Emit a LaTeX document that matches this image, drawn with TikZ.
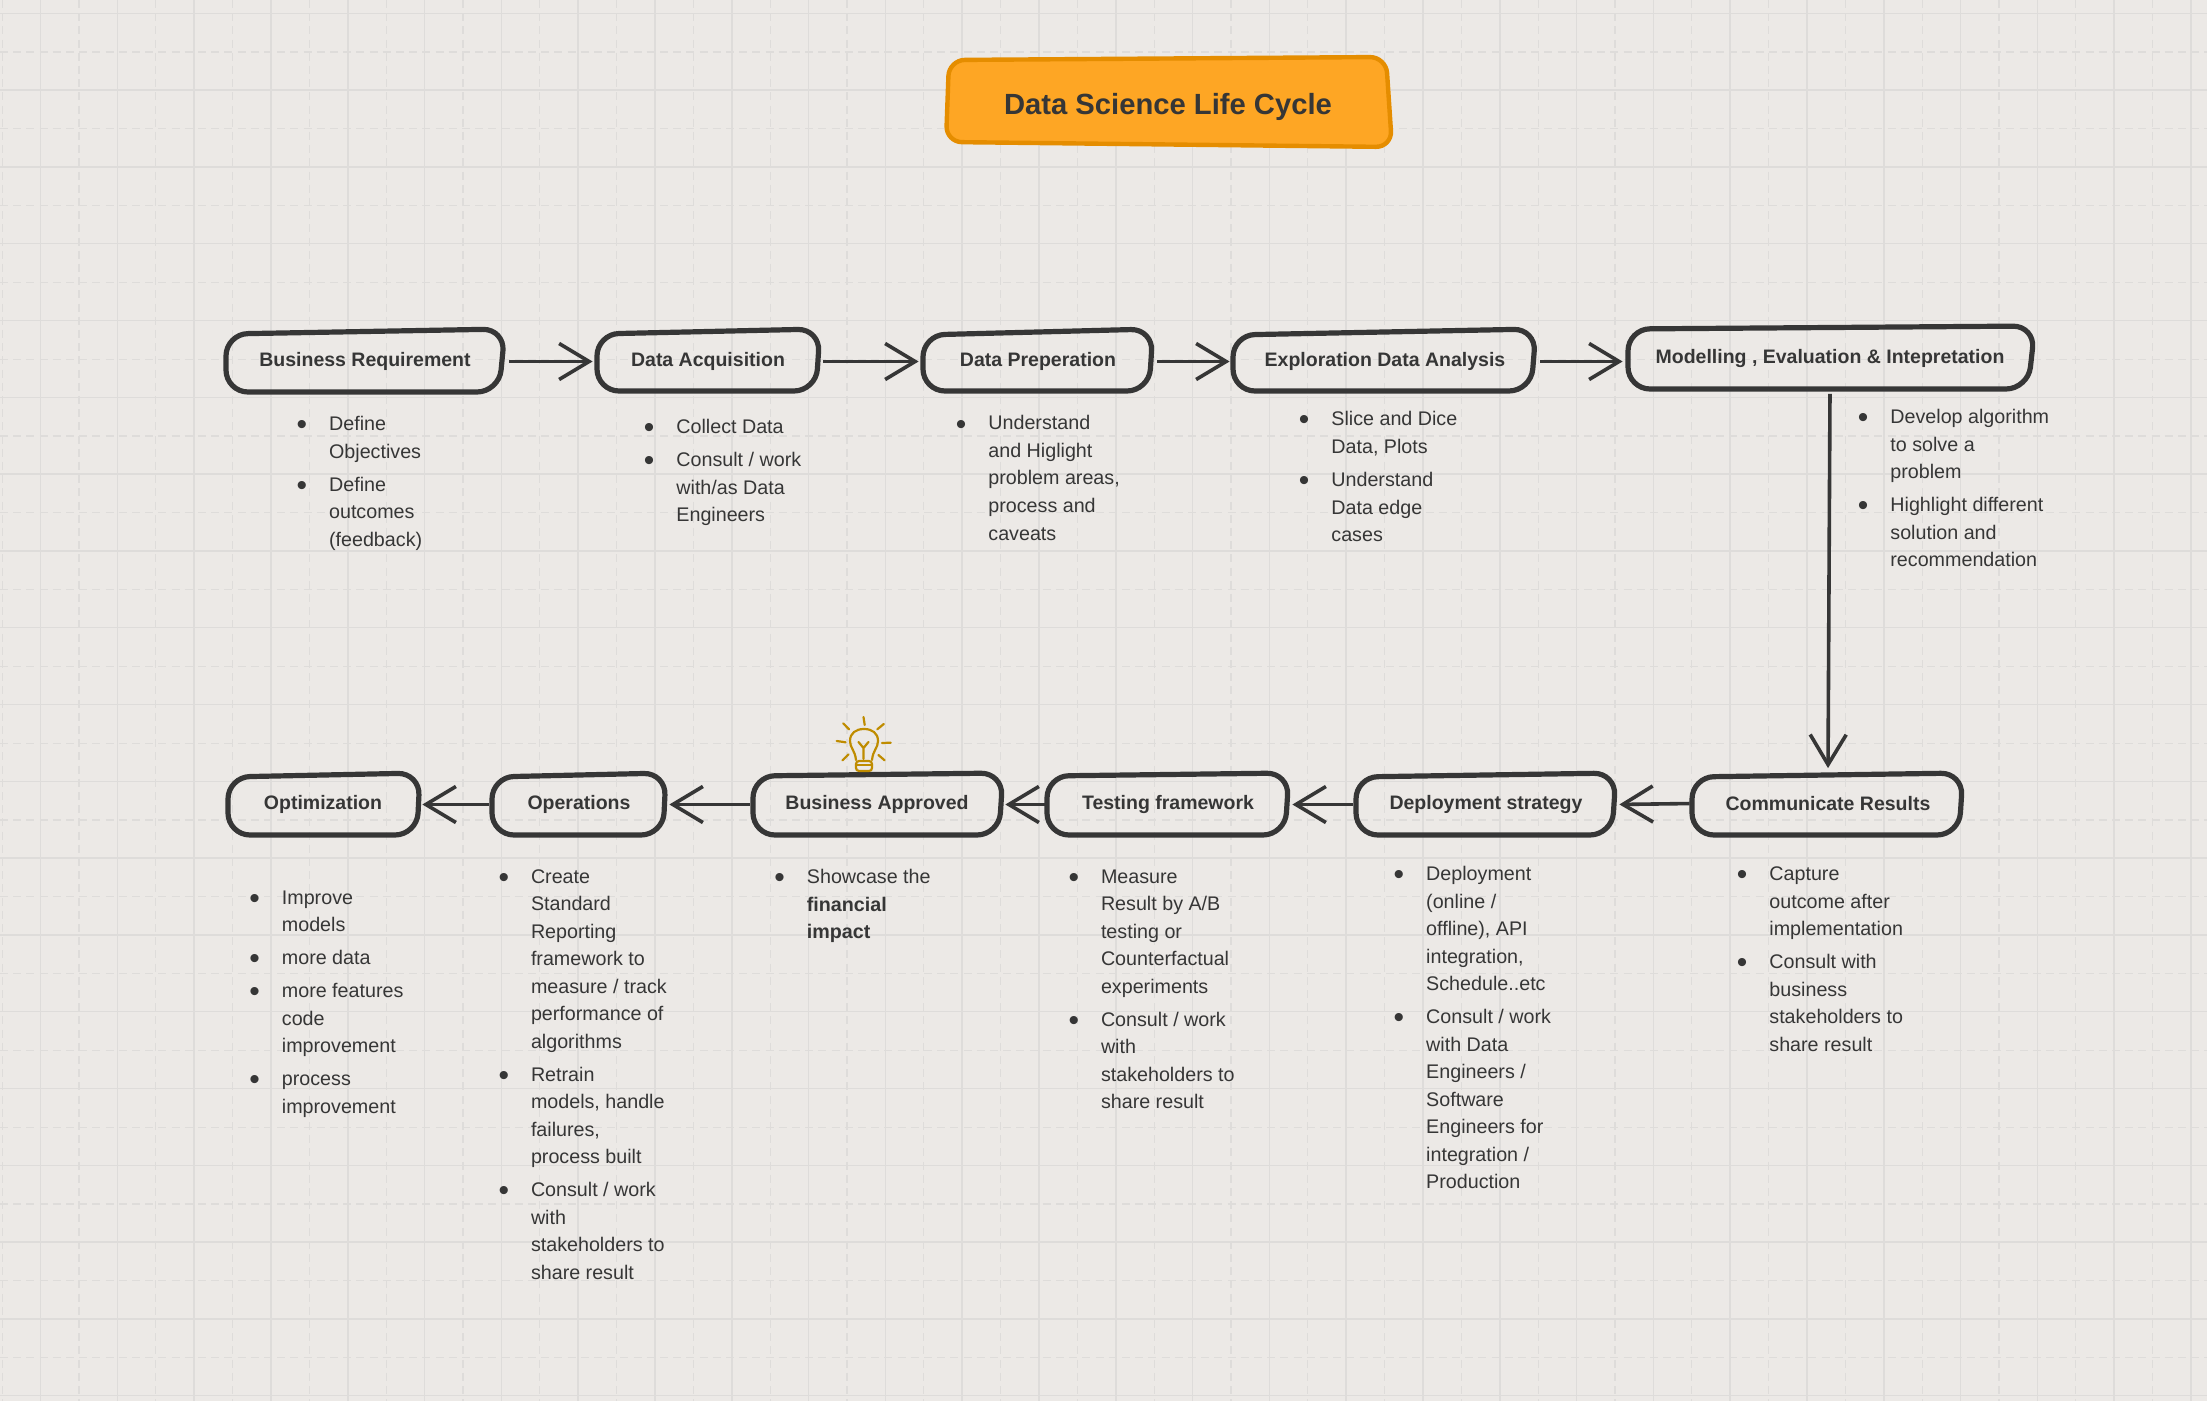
\documentclass[tikz,border=0pt]{standalone}
\usepackage{fontspec}
\setmainfont{Liberation Sans}
\usetikzlibrary{arrows.meta}
\definecolor{bgc}{HTML}{ECE9E6}
\definecolor{gridc}{HTML}{DEDCDA}
\definecolor{inkc}{HTML}{363636}
\definecolor{titlef}{HTML}{FEA624}
\definecolor{titled}{HTML}{E58D00}
\definecolor{bulbc}{HTML}{BF8C00}
\tikzset{
  x=0.5pt,y=-0.5pt,
  gsolid/.style={gridc,line width=0.75pt},
  gdash/.style={gridc,line width=0.6pt,dash pattern=on 4pt off 2.6pt},
  outline/.style={inkc,line width=2.6pt,rounded corners=11pt,line join=round},
  titleline/.style={draw=titled,fill=titlef,line width=2.2pt,rounded corners=8pt},
  lbl/.style={font=\bfseries\fontsize{9.75}{12}\selectfont,text=inkc,inner sep=0pt},
  conn/.style={inkc,line width=1.8pt,-{Straight Barb[length=15pt,width=18pt,line width=1.8pt]}},
  body/.style={text=inkc,inner sep=0pt,anchor=base west},
  bulb/.style={bulbc,line width=1.1pt,line cap=round}
}
\newcommand{\blk}[4]{\node[body] (#1) at (#2,#3+7) {\parbox[t]{130pt}{\fontsize{9.85}{13.75}\selectfont\parindent=0pt\parskip=2.8pt\relax #4}};}
\newcommand{\itm}{\leavevmode\llap{\raisebox{-2pt}[0pt][0pt]{\fontsize{15}{15}\selectfont •}\hskip 11pt}}
\begin{document}
\begin{tikzpicture}
\useasboundingbox (0,0) rectangle (2207,1401);
\fill[bgc] (0,0) rectangle (2207,1401);
\foreach \k in {0,...,28}{
  \draw[gdash] ({2.2+76.8*\k},0) -- ({2.2+76.8*\k},1401);
  \draw[gsolid] ({40.6+76.8*\k},0) -- ({40.6+76.8*\k},1401);
}
\foreach \k in {0,...,18}{
  \draw[gsolid] (0,{13.3+76.8*\k}) -- (2207,{13.3+76.8*\k});
  \draw[gdash] (0,{52+76.8*\k}) -- (2207,{52+76.8*\k});
}
% title
\draw[titleline] (949,60) -- (1386,57) -- (1392,147) -- (946,142) -- cycle;
\node[lbl,font=\bfseries\fontsize{14.6}{18}\selectfont] (title) at (1168,107) {Data Science Life Cycle};
% row 1
\draw[outline] (226,334) -- (505,329) -- (499,392) -- (226,392) -- cycle;
\node[lbl,minimum width=140pt,minimum height=32pt] (br) at (365,361.5) {Business Requirement};
\draw[outline] (597,334) -- (820,329) -- (816,391) -- (597,391) -- cycle;
\node[lbl,minimum width=111pt,minimum height=30pt] (da) at (708,361.5) {Data Acquisition};
\draw[outline] (923,335) -- (1153,329) -- (1149,391) -- (923,391) -- cycle;
\node[lbl,minimum width=115pt,minimum height=30pt] (dp) at (1038,361.5) {Data Preperation};
\draw[outline] (1233,335) -- (1536,329) -- (1531,391) -- (1233,391) -- cycle;
\node[lbl,minimum width=151pt,minimum height=30pt] (eda) at (1385,361.5) {Exploration Data Analysis};
\draw[outline] (1628,329) -- (2035,326) -- (2028,389) -- (1628,389) -- cycle;
\node[lbl,minimum width=203pt,minimum height=31pt] (mei) at (1830,358.5) {Modelling , Evaluation \& Intepretation};
% row 2
\draw[outline] (228,777) -- (420,773) -- (417,835) -- (228,835) -- cycle;
\node[lbl,minimum width=96pt,minimum height=31pt] (opt) at (323,804.5) {Optimization};
\draw[outline] (492,777) -- (666,773) -- (663,835) -- (492,835) -- cycle;
\node[lbl,minimum width=87pt,minimum height=31pt] (ops) at (579,804.5) {Operations};
\draw[outline] (753,776) -- (1003,773) -- (999,835) -- (753,835) -- cycle;
\node[lbl,minimum width=125pt,minimum height=31pt] (ba) at (877,804.5) {Business Approved};
\draw[outline] (1047,776) -- (1289,773) -- (1285,835) -- (1047,835) -- cycle;
\node[lbl,minimum width=121pt,minimum height=31pt] (tf) at (1168,804.5) {Testing framework};
\draw[outline] (1356,777) -- (1616,773) -- (1612,835) -- (1356,835) -- cycle;
\node[lbl,minimum width=130pt,minimum height=31pt] (ds) at (1486,804.5) {Deployment strategy};
\draw[outline] (1692,777) -- (1963,773) -- (1959,835) -- (1692,835) -- cycle;
\node[lbl,minimum width=135pt,minimum height=31pt] (cr) at (1828,803.5) {Communicate Results};
% connectors
\draw[conn,shorten <=2pt,shorten >=2pt] (br.east) -- (da.west);
\draw[conn,shorten <=2pt,shorten >=2pt] (da.east) -- (dp.west);
\draw[conn,shorten <=2pt,shorten >=2pt] (dp.east) -- (eda.west);
\draw[conn,shorten <=2pt,shorten >=2pt] (eda.east) -- ([yshift=-1.5pt]mei.west);
\draw[conn,shorten <=2pt,shorten >=2pt] (mei.south) -- (cr.north);
\draw[conn,shorten <=1.5pt,shorten >=1.5pt] (cr.west) -- (ds.east);
\draw[conn,shorten <=1.5pt,shorten >=1.5pt] (ds.west) -- (tf.east);
\draw[conn,shorten <=1pt,shorten >=1.5pt] (tf.west) -- (ba.east);
\draw[conn,shorten <=1pt,shorten >=1.5pt] (ba.west) -- (ops.east);
\draw[conn,shorten <=1.5pt,shorten >=1.5pt] (ops.west) -- (opt.east);
% bulb
\draw[bulb] (843.2,723.3) -- (849,729.3) (883.8,724) -- (877.3,729.3) (836.7,741) -- (845.5,742.3) (881.9,743) -- (890.7,742.7) (842.5,760.3) -- (848.6,754.3) (884.6,760.3) -- (878.4,755) (863.5,717) -- (864.7,725);
\draw[bulb] (856,760) .. controls (855,750) and (850,748) .. (850,741) .. controls (850,733) and (856,729) .. (864,729) .. controls (872,729) and (878,733) .. (878,741) .. controls (878,748) and (873,750) .. (872,760);
\draw[bulb] (863.5,759) -- (863.5,748) (858.5,742) -- (863.5,748) -- (868.5,742);
\draw[bulb,rounded corners=1.5pt] (856,761) rectangle (872,771);
\draw[bulb] (856,765) -- (872,765);
% lists
\blk{l1}{328.7}{423.6}{\itm Define\\Objectives\par\itm Define\\outcomes\\(feedback)}
\blk{l2}{676}{426.5}{\itm Collect Data\par\itm Consult / work\\with/as Data\\Engineers}
\blk{l3}{988}{423}{\itm Understand\\and Higlight\\problem areas,\\process and\\caveats}
\blk{l4}{1331}{419}{\itm Slice and Dice\\Data, Plots\par\itm Understand\\Data edge\\cases}
\blk{l5}{1890}{416.6}{\itm Develop algorithm\\to solve a\\problem\par\itm Highlight different\\solution and\\recommendation}
\blk{l6}{281.5}{897}{\itm Improve\\models\par\itm more data\par\itm more features\\code\\improvement\par\itm process\\improvement}
\blk{l7}{530.6}{876}{\itm Create\\Standard\\Reporting\\framework to\\measure / track\\performance of\\algorithms\par\itm Retrain\\models, handle\\failures,\\process built\par\itm Consult / work\\with\\stakeholders to\\share result}
\blk{l8}{806.5}{876.5}{\itm Showcase the\\\textbf{financial}\\\textbf{impact}}
\blk{l9}{1100.6}{876}{\itm Measure\\Result by A/B\\testing or\\Counterfactual\\experiments\par\itm Consult / work\\with\\stakeholders to\\share result}
\blk{l10}{1425.8}{873.5}{\itm Deployment\\(online /\\offline), API\\integration,\\Schedule..etc\par\itm Consult / work\\with Data\\Engineers /\\Software\\Engineers for\\integration /\\Production}
\blk{l11}{1769}{873.5}{\itm Capture\\outcome after\\implementation\par\itm Consult with\\business\\stakeholders to\\share result}
\end{tikzpicture}
\end{document}
